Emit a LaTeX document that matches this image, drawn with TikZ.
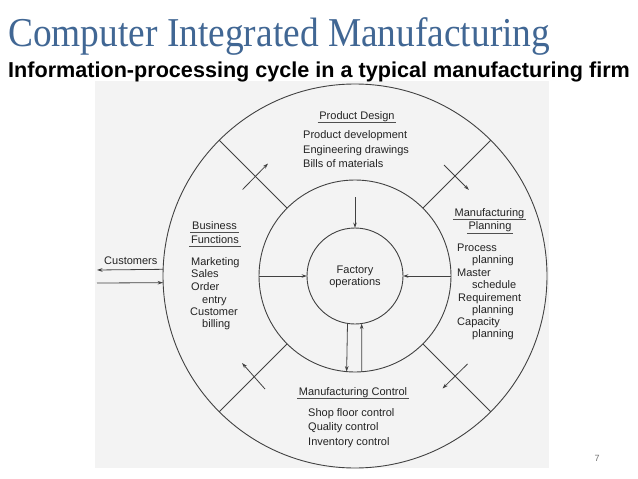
\documentclass[tikz,border=0pt]{standalone}
\usepackage{fontspec}
\setmainfont{Liberation Sans}
\newfontfamily\titlefont{Liberation Serif}
\usetikzlibrary{arrows.meta}
\definecolor{titleblue}{RGB}{65,103,148}
\definecolor{ink}{RGB}{65,65,65}
\definecolor{txt}{RGB}{35,35,35}
\definecolor{scanbg}{RGB}{243,243,243}
\begin{document}
\begin{tikzpicture}[x=1pt,y=-1pt,
  ring/.style={circle,draw=ink,line width=0.9pt,inner sep=0pt,outer sep=0pt},
  conn/.style={draw=ink,line width=0.8pt},
  flow/.style={conn,-{Stealth[length=5.5pt,width=3.6pt]}},
  lbl/.style={font=\fontsize{11}{13}\selectfont,text=txt,inner sep=0pt,anchor=base west},
  head/.style={lbl,anchor=base,inner xsep=1.5pt},
  uline/.style={draw=txt!80,line width=0.6pt}]
\useasboundingbox (0,0) rectangle (638,479);
\fill[white] (0,0) rectangle (638,479);
\fill[scanbg] (95,81) rectangle (549,468);

% titles
\node[anchor=base west,inner sep=0pt,text=titleblue,font=\titlefont\fontsize{41}{41}\selectfont] (title) at (8,46) {\scalebox{0.912}[1]{Computer Integrated Manufacturing}};
\node[anchor=base west,inner sep=0pt,text=black,font=\bfseries\fontsize{21.6}{22}\selectfont] (sub) at (8,77.5) {Information-processing cycle in a typical manufacturing firm};
\node[font=\fontsize{9}{9}\selectfont,text=black!55] (pg) at (597,458) {7};

% rings
\node[ring,minimum size=384pt] (outer) at (355,276) {};
\node[ring,minimum size=192pt] (mid) at (355,276) {};
\node[ring,minimum size=96pt] (inner) at (355,276) {};

% radial separators
\draw[conn] (mid.45) -- (outer.45);
\draw[conn] (mid.135) -- (outer.135);
\draw[conn] (mid.225) -- (outer.225);
\draw[conn] (mid.315) -- (outer.315);

% cycle arrows across separators
\coordinate (ulS) at (242.6,189.5); \coordinate (ulE) at (268,163.5);
\coordinate (urS) at (444,165); \coordinate (urE) at (469,190);
\coordinate (lrS) at (467.5,364); \coordinate (lrE) at (442.5,388.5);
\coordinate (llS) at (265,389); \coordinate (llE) at (242,363);
\draw[flow] (ulS) -- (ulE);
\draw[flow] (urS) -- (urE);
\draw[flow] (lrS) -- (lrE);
\draw[flow] (llS) -- (llE);

% arrows to factory operations
\coordinate (topS) at (355,197);
\draw[flow] (topS) -- (inner.north);
\draw[flow] (mid.180) -- (inner.180);
\draw[flow] (mid.0) -- (inner.0);
\draw[flow] (inner.261.6) -- (mid.265.8);
\draw[flow] (mid.274.2) -- (inner.278.4);

% customers
\coordinate (cuL1) at (97,270);
\coordinate (cuL2) at (97,283);
\draw[flow] (outer.178.2) -- (cuL1);
\draw[flow] (cuL2) -- (outer.182.1);
\node[lbl] (cust) at (104,264.5) {Customers};

% factory
\node[font=\fontsize{11}{12}\selectfont,text=txt,align=center,inner sep=0pt] (fac) at (355,277) {Factory\\operations};

% product design
\node[head] (pdh) at (357,119) {Product Design};
\draw[uline] ([yshift=-3pt]pdh.base west) -- ([yshift=-3pt]pdh.base east);
\node[lbl] (pd1) at (303,138) {Product development};
\node[lbl] (pd2) at (303,153) {Engineering drawings};
\node[lbl] (pd3) at (303,167) {Bills of materials};

% business functions
\node[head] (bfh1) at (214.5,229) {Business};
\draw[uline] ([yshift=-3pt]bfh1.base west) -- ([yshift=-3pt]bfh1.base east);
\node[head] (bfh2) at (215,243) {Functions};
\draw[uline] ([yshift=-3.5pt]bfh2.base west) -- ([yshift=-3.5pt]bfh2.base east);
\node[lbl] (bf1) at (191,265) {Marketing};
\node[lbl] (bf2) at (191,277) {Sales};
\node[lbl] (bf3) at (191,290) {Order};
\node[lbl] (bf4) at (202,303) {entry};
\node[lbl] (bf5) at (190,315) {Customer};
\node[lbl] (bf6) at (202,327.5) {billing};

% manufacturing planning
\node[head] (mph1) at (489.5,216.5) {Manufacturing};
\draw[uline] ([yshift=-3pt]mph1.base west) -- ([yshift=-3pt]mph1.base east);
\node[head] (mph2) at (490,229) {Planning};
\draw[uline] ([yshift=-4.5pt]mph2.base west) -- ([yshift=-4.5pt]mph2.base east);
\node[lbl] (mp1) at (457,251) {Process};
\node[lbl] (mp2) at (472,263.5) {planning};
\node[lbl] (mp3) at (457,276) {Master};
\node[lbl] (mp4) at (472,288) {schedule};
\node[lbl] (mp5) at (458,301) {Requirement};
\node[lbl] (mp6) at (472,313) {planning};
\node[lbl] (mp7) at (457,325) {Capacity};
\node[lbl] (mp8) at (472,337) {planning};

% manufacturing control
\node[head] (mch) at (353,395.5) {Manufacturing Control};
\draw[uline] ([yshift=-3pt]mch.base west) -- ([yshift=-3pt]mch.base east);
\node[lbl] (mc1) at (308,416) {Shop floor control};
\node[lbl] (mc2) at (308,430.5) {Quality control};
\node[lbl] (mc3) at (308,445) {Inventory control};
\end{tikzpicture}
\end{document}
